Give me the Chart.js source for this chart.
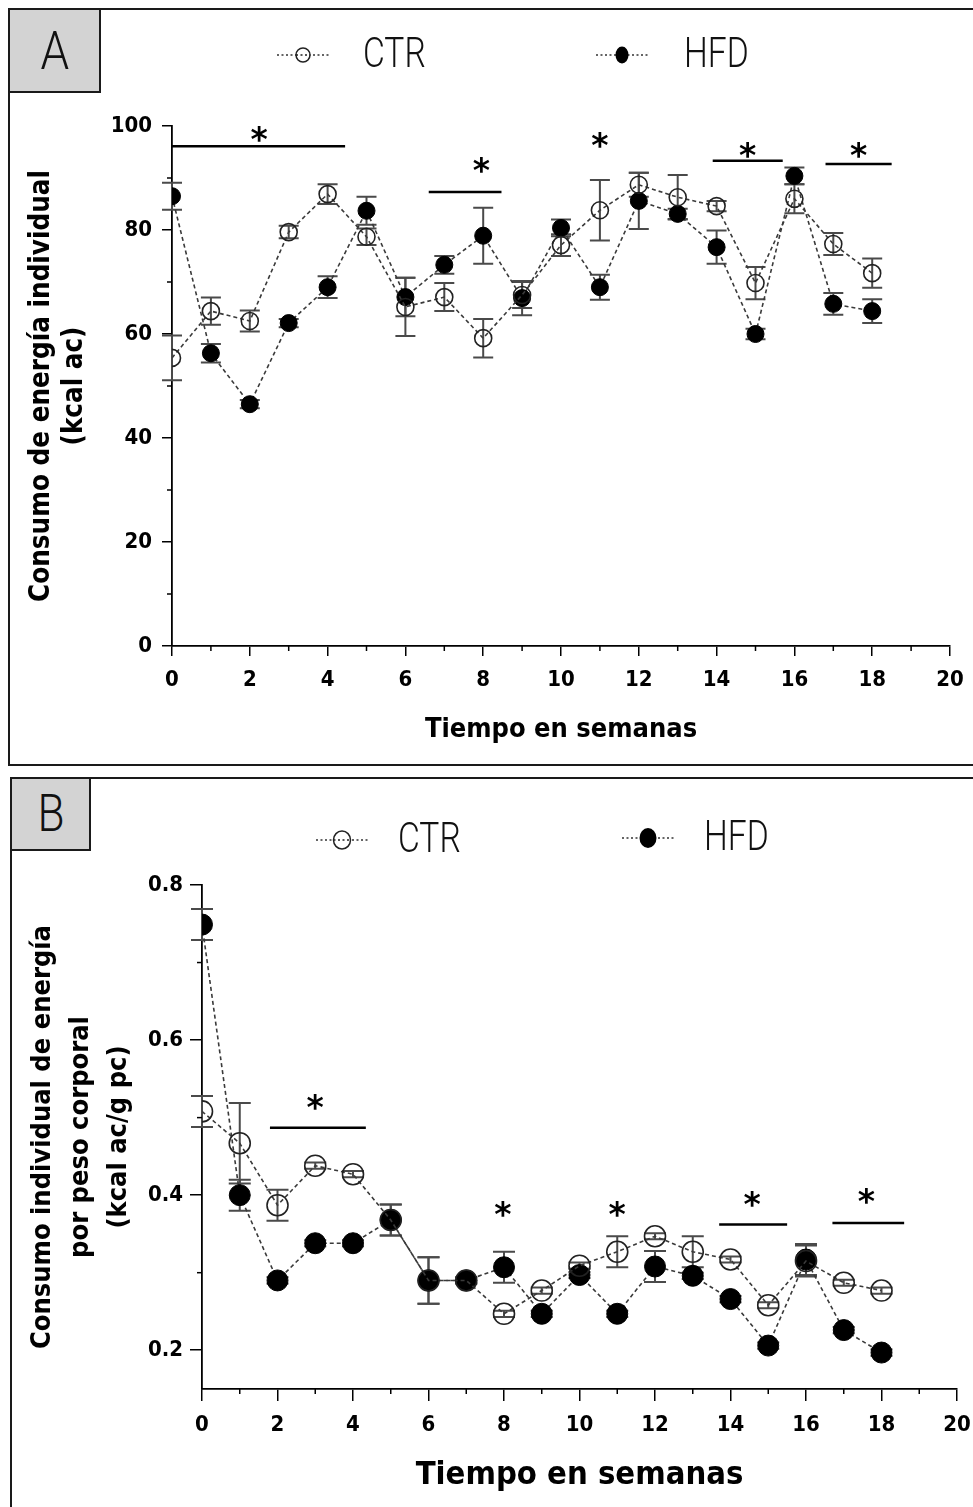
<!DOCTYPE html>
<html>
<head>
<meta charset="utf-8">
<script src="https://cdn.jsdelivr.net/npm/chart.js@4.4.1/dist/chart.umd.min.js"></script>
<style>
  html,body{margin:0;padding:0;background:#fff;}
  body{width:973px;height:1507px;position:relative;overflow:hidden;}
  .frame{position:absolute;box-sizing:border-box;border:2px solid #1a1a1a;}
  .tag{position:absolute;box-sizing:border-box;border:2px solid #1a1a1a;background:#d3d3d3;
       font-family:Roboto,'DejaVu Sans',sans-serif;font-weight:300;
       color:#111;text-align:center;z-index:3;}
  .tag span{display:inline-block;transform:scaleX(0.85);}
  canvas{position:absolute;z-index:2;}
</style>
</head>
<body>
<div class="frame" style="left:8px;top:8px;width:980px;height:758px;"></div>
<div class="tag" style="left:8px;top:8px;width:93px;height:85px;font-size:54px;line-height:82px;"><span>A</span></div>
<canvas id="chartA" width="1000" height="755" style="left:9px;top:9px;"></canvas>

<div class="frame" style="left:10px;top:777px;width:980px;height:740px;"></div>
<div class="tag" style="left:10px;top:777px;width:81px;height:74px;font-size:52px;line-height:70px;"><span>B</span></div>
<canvas id="chartB" width="1000" height="729" style="left:11px;top:778px;"></canvas>

<script>
// ---------- DATA ----------
const weeks = [0,1,2,3,4,5,6,7,8,9,10,11,12,13,14,15,16,17,18];
const xTickValues = [0,2,4,6,8,10,12,14,16,18,20];
const xMinorValues = [1,3,5,7,9,11,13,15,17,19];

// Panel A: Consumo de energía individual (kcal ac)
const ctrA    = [55.4,64.4,62.5,79.6,86.9,78.7,65.2,67.1,59.2,67.5,77.1,83.8,88.7,86.3,84.6,69.8,86.0,77.3,71.7];
const ctrAErr = [4.3, 2.6, 2.0, 1.2, 1.9, 1.6, 5.6, 2.7, 3.7, 2.5, 2.1, 5.8, 2.3, 4.3, 1.0, 3.1, 2.8, 2.1, 2.8];
const hfdA    = [86.5,56.3,46.5,62.1,69.0,83.7,67.1,73.3,78.9,66.9,80.4,69.0,85.6,83.1,76.7,60.0,90.4,65.8,64.4];
const hfdAErr = [2.6, 1.8, 0.8, 0.8, 2.1, 2.7, 3.7, 1.7, 5.4, 3.3, 1.6, 2.4, 5.4, 1.0, 3.2, 1.0, 1.6, 2.1, 2.3];
const yTicksA = [0,20,40,60,80,100];
const yMinorA = [10,30,50,70,90];
const sigBarsA = [[0,4.45,96.1],[6.6,8.47,87.3],[13.9,15.7,93.3],[16.8,18.5,92.7]];
const starsA   = [[2.24,98.6],[7.95,92.8],[11.0,97.6],[14.8,95.7],[17.65,95.7]];

// Panel B: Consumo individual de energía por peso corporal (kcal ac/g pc)
const ctrB    = [0.508,0.467,0.387,0.438,0.427,0.368,0.290,0.290,0.247,0.277,0.309,0.327,0.347,0.327,0.317,0.258,0.315,0.287,0.277];
const ctrBErr = [0.020,0.052,0.020,0.004,0.004,0.020,0.030,0.004,0.004,0.004,0.004,0.020,0.004,0.020,0.004,0.004,0.020,0.004,0.004];
const hfdB    = [0.749,0.400,0.290,0.338,0.338,0.368,0.290,0.290,0.307,0.247,0.297,0.247,0.308,0.296,0.266,0.206,0.317,0.226,0.197];
const hfdBErr = [0.020,0.020,0.004,0.004,0.004,0.020,0.030,0.004,0.020,0.004,0.004,0.004,0.020,0.004,0.004,0.004,0.020,0.004,0.004];
const yTicksB = [0.2,0.4,0.6,0.8];
const yMinorB = [0.3,0.5,0.7];
const sigBarsB = [[1.8,4.34,0.487],[13.7,15.5,0.362],[16.7,18.6,0.364]];
const starsB   = [[3.0,0.522],[7.97,0.384],[11.0,0.384],[14.57,0.397],[17.6,0.400]];

// ---------- HELPERS ----------
const TICK_FONT = "'DejaVu Sans Condensed','DejaVu Sans',sans-serif";
const LEG_FONT = "Roboto,'DejaVu Sans',sans-serif";

function extrasPlugin(cfg) {
  return {
    id: 'extras',
    beforeDatasetsDraw(chart) {
      const ctx = chart.ctx, xs = chart.scales.x, ys = chart.scales.y;
      ctx.save();
      ctx.strokeStyle = '#4a4a4a';
      ctx.lineWidth = cfg.errW;
      [[cfg.ctr, cfg.ctrErr],[cfg.hfd, cfg.hfdErr]].forEach(([vals, errs]) => {
        vals.forEach((v, i) => {
          const x = xs.getPixelForValue(weeks[i]);
          const yt = ys.getPixelForValue(v + errs[i]);
          const yb = ys.getPixelForValue(v - errs[i]);
          ctx.beginPath();
          ctx.moveTo(x, yt); ctx.lineTo(x, yb);
          ctx.moveTo(x - cfg.cap, yt); ctx.lineTo(x + cfg.cap, yt);
          ctx.moveTo(x - cfg.cap, yb); ctx.lineTo(x + cfg.cap, yb);
          ctx.stroke();
        });
      });
      ctx.restore();
    },
    afterDraw(chart) {
      const ctx = chart.ctx, xs = chart.scales.x, ys = chart.scales.y;
      ctx.save();
      // minor ticks
      ctx.strokeStyle = '#000'; ctx.lineWidth = 1.5;
      const ax = ys.bottom;
      xMinorValues.forEach(v => {
        const x = xs.getPixelForValue(v);
        ctx.beginPath(); ctx.moveTo(x, ax); ctx.lineTo(x, ax + cfg.minorLen); ctx.stroke();
      });
      const ay = xs.left;
      cfg.yMinor.forEach(v => {
        const y = ys.getPixelForValue(v);
        ctx.beginPath(); ctx.moveTo(ay, y); ctx.lineTo(ay - cfg.minorLen, y); ctx.stroke();
      });
      // significance bars
      ctx.lineWidth = 2.5; ctx.strokeStyle = '#000';
      cfg.bars.forEach(([a, b, v]) => {
        const y = ys.getPixelForValue(v);
        ctx.beginPath(); ctx.moveTo(xs.getPixelForValue(a), y); ctx.lineTo(xs.getPixelForValue(b), y); ctx.stroke();
      });
      ctx.fillStyle = '#000';
      ctx.font = 'bold ' + cfg.starSize + "px 'DejaVu Sans',sans-serif";
      ctx.textAlign = 'center'; ctx.textBaseline = 'alphabetic';
      cfg.stars.forEach(([a, v]) => {
        ctx.fillText('*', xs.getPixelForValue(a), ys.getPixelForValue(v) + cfg.starSize * 0.55);
      });
      // legend
      cfg.legend.forEach(it => {
        ctx.setLineDash([2, 2.5]);
        ctx.lineWidth = 1.5; ctx.strokeStyle = '#333';
        ctx.beginPath(); ctx.moveTo(it.x - it.half, it.y); ctx.lineTo(it.x + it.half, it.y); ctx.stroke();
        ctx.setLineDash([]);
        ctx.beginPath();
        ctx.ellipse(it.x, it.y, it.rx, it.ry, 0, 0, Math.PI * 2);
        if (it.filled) { ctx.fillStyle = '#000'; ctx.fill(); }
        else { ctx.fillStyle = '#fff'; ctx.fill(); ctx.lineWidth = 1.5; ctx.strokeStyle = '#222'; ctx.stroke();
               ctx.setLineDash([2,2.5]); ctx.beginPath(); ctx.moveTo(it.x - it.rx, it.y); ctx.lineTo(it.x + it.rx, it.y); ctx.stroke(); ctx.setLineDash([]); }
        ctx.save();
        ctx.fillStyle = '#111';
        ctx.font = '300 ' + cfg.legSize + 'px ' + LEG_FONT;
        ctx.textAlign = 'left'; ctx.textBaseline = 'middle';
        ctx.translate(it.tx, it.y + 1);
        ctx.scale(0.8, 1);
        ctx.fillText(it.label, 0, 0);
        ctx.restore();
      });
      ctx.restore();
    }
  };
}

function makeChart(id, cfg) {
  const ds = (label, vals, filled) => ({
    label,
    data: weeks.map((w, i) => ({x: w, y: vals[i]})),
    borderColor: '#3a3a3a', borderWidth: 1.6, borderDash: [4, 3],
    pointRadius: cfg.r, pointHoverRadius: cfg.r,
    pointBackgroundColor: filled ? '#000' : 'rgba(255,255,255,0)',
    pointBorderColor: filled ? '#000' : '#222',
    pointBorderWidth: filled ? 1 : 1.6,
    tension: 0, fill: false
  });
  return new Chart(document.getElementById(id), {
    type: 'line',
    data: { datasets: [ ds('CTR', cfg.ctr, false), ds('HFD', cfg.hfd, true) ] },
    options: {
      responsive: false, animation: false, maintainAspectRatio: false,
      layout: { padding: { left: 0, top: cfg.padTop, right: cfg.padRight, bottom: 0 } },
      plugins: { legend: { display: false }, tooltip: { enabled: false } },
      scales: {
        x: {
          type: 'linear', min: 0, max: 20,
          afterBuildTicks(s) { s.ticks = xTickValues.map(v => ({value: v})); },
          afterFit(s) { s.height = cfg.xH; },
          ticks: { color: '#000', padding: cfg.xPad, font: { family: TICK_FONT, weight: 'bold', size: cfg.tickSize }, maxRotation: 0, autoSkip: false },
          grid: { drawOnChartArea: false, drawTicks: true, tickLength: cfg.tickLen, color: '#000', lineWidth: 1.5 },
          border: { display: true, color: '#000', width: 1.8 },
          title: { display: true, text: 'Tiempo en semanas', color: '#000',
                   font: { family: TICK_FONT, weight: 'bold', size: cfg.xTitleSize, lineHeight: 1.2 },
                   padding: { top: 0, bottom: cfg.xTitlePad } }
        },
        y: {
          type: 'linear', min: cfg.yMin, max: cfg.yMax,
          afterBuildTicks(s) { s.ticks = cfg.yTicks.map(v => ({value: v})); },
          afterFit(s) { s.width = cfg.yW; },
          ticks: { color: '#000', padding: cfg.yPad, font: { family: TICK_FONT, weight: 'bold', size: cfg.tickSize },
                   callback: v => cfg.yFmt(v) },
          grid: { drawOnChartArea: false, drawTicks: true, tickLength: cfg.tickLen, color: '#000', lineWidth: 1.5 },
          border: { display: true, color: '#000', width: 1.8 },
          title: { display: true, text: cfg.yTitle, color: '#000',
                   font: { family: TICK_FONT, weight: 'bold', size: cfg.yTitleSize, lineHeight: cfg.yTitleLH },
                   padding: { top: cfg.yTitlePad, bottom: 0 } }
        }
      }
    },
    plugins: [extrasPlugin(cfg)]
  });
}

makeChart('chartA', {
  ctr: ctrA, ctrErr: ctrAErr, hfd: hfdA, hfdErr: hfdAErr,
  yMin: 0, yMax: 100, yTicks: yTicksA, yMinor: yMinorA, yFmt: v => String(v),
  bars: sigBarsA, stars: starsA,
  r: 8.5, errW: 2, cap: 10, minorLen: 5, tickLen: 10, tickSize: 22,
  padTop: 117, padRight: 59, xH: 118, yW: 163,
  xPad: 11, yPad: 10, xTitleSize: 27, xTitlePad: 18,
  yTitle: ['Consumo de energía individual', '(kcal ac)'], yTitleSize: 27.5, yTitleLH: 1.2, yTitlePad: 16,
  starSize: 33, legSize: 42,
  legend: [
    {label: 'CTR', x: 294, y: 46, half: 26, rx: 7, ry: 7, filled: false, tx: 354},
    {label: 'HFD', x: 613, y: 46, half: 26, rx: 6.5, ry: 8.5, filled: true, tx: 675}
  ]
});

makeChart('chartB', {
  ctr: ctrB, ctrErr: ctrBErr, hfd: hfdB, hfdErr: hfdBErr,
  yMin: 0.15, yMax: 0.8, yTicks: yTicksB, yMinor: yMinorB, yFmt: v => v.toFixed(1),
  bars: sigBarsB, stars: starsB,
  r: 10.5, errW: 2, cap: 11, minorLen: 5, tickLen: 12, tickSize: 22,
  padTop: 107, padRight: 54, xH: 118, yW: 191,
  xPad: 11, yPad: 7, xTitleSize: 32.5, xTitlePad: 12,
  yTitle: ['Consumo individual de energía', 'por peso corporal', '(kcal ac/g pc)'], yTitleSize: 27, yTitleLH: 1.4, yTitlePad: 13,
  starSize: 33, legSize: 42,
  legend: [
    {label: 'CTR', x: 331, y: 62, half: 26, rx: 8.5, ry: 9, filled: false, tx: 387},
    {label: 'HFD', x: 637, y: 60, half: 26, rx: 8.5, ry: 10, filled: true, tx: 693}
  ]
});
</script>
</body>
</html>
